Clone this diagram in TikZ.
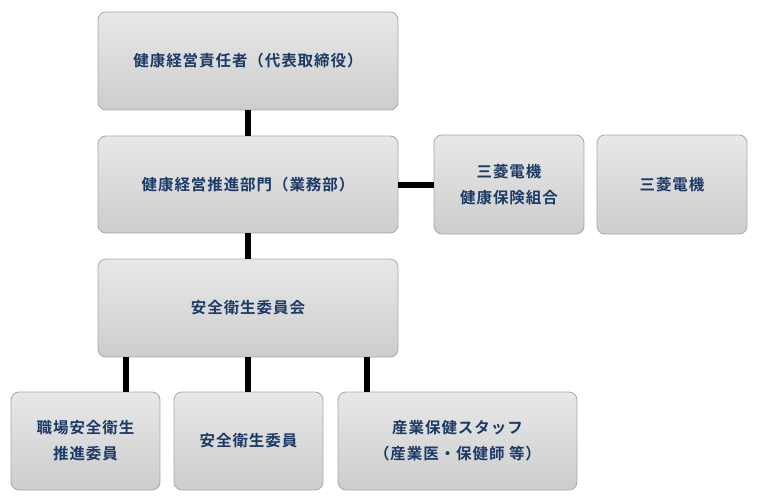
\documentclass[tikz,border=0pt]{standalone}
\usepackage{fontspec}
\newfontfamily\jp{Noto Sans CJK JP Bold}[LetterSpace=6]
\usetikzlibrary{positioning,calc}
\definecolor{boxtop}{HTML}{E8E8E8}
\definecolor{boxbot}{HTML}{CDCDCD}
\definecolor{boxline}{HTML}{A8A8A8}
\definecolor{navy}{HTML}{1B3A66}

\begin{document}
\begin{tikzpicture}[x=1pt,y=-1pt,
    orgbox/.style={draw=boxline,line width=0.8pt,rounded corners=8pt,
      top color=boxtop,bottom color=boxbot,inner sep=0pt,align=center,
      font=\jp\fontsize{15.5pt}{26pt}\selectfont,text=navy},
    link/.style={line width=6pt,black}]
  \useasboundingbox (0,0) rectangle (760,500);

  % top of the chain
  \node[orgbox,minimum width=300pt,minimum height=98pt] (ceo) at (248,61) {健康経営責任者（代表取締役）};
  \node[orgbox,minimum width=300pt,minimum height=97pt] (promo) at (248,184.5) {健康経営推進部門（業務部）};
  \node[orgbox,minimum width=150pt,minimum height=99pt] (kumiai) at (509,184.5) {三菱電機\\健康保険組合};
  \node[orgbox,minimum width=150pt,minimum height=99pt] (melco) at (672,184.5) {三菱電機};
  \node[orgbox,minimum width=300pt,minimum height=98pt] (comm) at (248,308) {安全衛生委員会};

  % bottom row
  \node[orgbox,minimum width=149pt,minimum height=98pt] (site) at (85.5,441) {職場安全衛生\\推進委員};
  \node[orgbox,minimum width=149pt,minimum height=98pt] (member) at (248.5,441) {安全衛生委員};
  \node[orgbox,minimum width=239pt,minimum height=98pt] (staff) at (457.5,441) {産業保健スタッフ\\（産業医・保健師 等）};

  % connectors
  \coordinate (c1) at (126,0);
  \coordinate (c3) at (367,0);
  \draw[link] (ceo.south) -- (promo.north);
  \draw[link] (promo.east) -- (kumiai.west);
  \draw[link] (promo.south) -- (comm.north);
  \draw[link] (comm.south -| c1) -- (site.north -| c1);
  \draw[link] (comm.south) -- (comm.south |- member.north);
  \draw[link] (comm.south -| c3) -- (staff.north -| c3);
\end{tikzpicture}
\end{document}
